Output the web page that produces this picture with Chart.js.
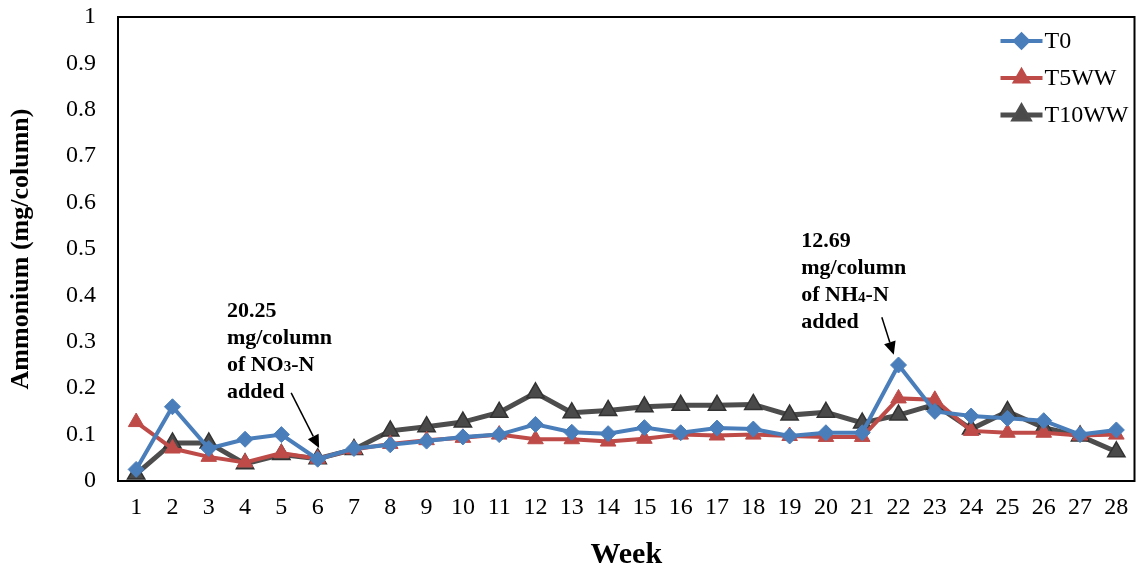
<!DOCTYPE html>
<html>
<head>
<meta charset="utf-8">
<script src="https://cdn.jsdelivr.net/npm/chart.js@4.4.4/dist/chart.umd.min.js"></script>
<style>
  html, body { margin: 0; padding: 0; background: #fff; }
  #wrap { width: 1146px; height: 573px; }
</style>
</head>
<body>
<div id="wrap"><canvas id="chart" width="1146" height="573"></canvas></div>
<script>
const weeks = ["1","2","3","4","5","6","7","8","9","10","11","12","13","14","15","16","17","18","19","20","21","22","23","24","25","26","27","28"];
const t0 = [0.025, 0.16, 0.07, 0.09, 0.10, 0.047, 0.07, 0.078, 0.086, 0.095, 0.10, 0.122, 0.105, 0.102, 0.115, 0.104, 0.114, 0.112, 0.097, 0.104, 0.104, 0.25, 0.15, 0.14, 0.135, 0.13, 0.10, 0.11];
const t5ww = [0.127, 0.07, 0.052, 0.04, 0.06, 0.048, 0.068, 0.08, 0.088, 0.093, 0.10, 0.09, 0.09, 0.085, 0.091, 0.10, 0.098, 0.10, 0.097, 0.095, 0.095, 0.178, 0.175, 0.108, 0.104, 0.104, 0.098, 0.10];
const t10ww = [0.015, 0.082, 0.082, 0.037, 0.057, 0.048, 0.068, 0.108, 0.117, 0.127, 0.148, 0.19, 0.147, 0.152, 0.16, 0.163, 0.163, 0.165, 0.142, 0.148, 0.125, 0.142, 0.165, 0.112, 0.15, 0.115, 0.097, 0.063];
const yTicks = [0, 0.1, 0.2, 0.3, 0.4, 0.5, 0.6, 0.7, 0.8, 0.9, 1];

const serif = "'Liberation Serif', 'Times New Roman', serif";

// annotation notes: text lines + arrow, placed in data units (week index, value)
const notes = [
  {lines: ["20.25", "mg/column", ["of NO", "3", "-N"], "added"], x: 2.5, y: 0.39, from: [4.27, 0.19], to: [5.04, 0.071]},
  {lines: ["12.69", "mg/column", ["of NH", "4", "-N"], "added"], x: 18.32, y: 0.54, from: [20.54, 0.353], to: [20.87, 0.272]}
];

const framePlugin = {
  id: "frame",
  afterDraw(chart) {
    const {ctx, chartArea: a} = chart;
    ctx.save();
    ctx.strokeStyle = "#000";
    ctx.lineWidth = 2;
    ctx.strokeRect(a.left, a.top, a.right - a.left, a.bottom - a.top);
    ctx.restore();
  }
};

const notesPlugin = {
  id: "notes",
  afterDraw(chart) {
    const {ctx} = chart;
    const xs = chart.scales.x, ys = chart.scales.y;
    ctx.save();
    ctx.fillStyle = "#000";
    ctx.textBaseline = "top";
    notes.forEach(n => {
      const px = xs.getPixelForValue(n.x);
      let py = ys.getPixelForValue(n.y);
      n.lines.forEach(line => {
        ctx.font = "bold 22px " + serif;
        if (Array.isArray(line)) {
          let cx = px;
          ctx.fillText(line[0], cx, py);
          cx += ctx.measureText(line[0]).width;
          ctx.font = "bold 15px " + serif;
          ctx.fillText(line[1], cx, py + 6);
          cx += ctx.measureText(line[1]).width;
          ctx.font = "bold 22px " + serif;
          ctx.fillText(line[2], cx, py);
        } else {
          ctx.fillText(line, px, py);
        }
        py += 27;
      });
      const x1 = xs.getPixelForValue(n.from[0]), y1 = ys.getPixelForValue(n.from[1]);
      const x2 = xs.getPixelForValue(n.to[0]), y2 = ys.getPixelForValue(n.to[1]);
      const ang = Math.atan2(y2 - y1, x2 - x1);
      const hl = 13, hw = 6;
      const bx = x2 - hl * Math.cos(ang), by = y2 - hl * Math.sin(ang);
      ctx.strokeStyle = "#000";
      ctx.lineWidth = 1.5;
      ctx.beginPath();
      ctx.moveTo(x1, y1);
      ctx.lineTo(bx, by);
      ctx.stroke();
      ctx.beginPath();
      ctx.moveTo(x2, y2);
      ctx.lineTo(bx + hw * Math.sin(ang), by - hw * Math.cos(ang));
      ctx.lineTo(bx - hw * Math.sin(ang), by + hw * Math.cos(ang));
      ctx.closePath();
      ctx.fill();
    });
    ctx.restore();
  }
};

// legend with line + marker, like the spreadsheet one
const legendPlugin = {
  id: "lineLegend",
  afterDraw(chart) {
    const {ctx, chartArea: a} = chart;
    ctx.save();
    const x0 = a.right - 134, rowH = 37, y0 = a.top + 24;
    chart.data.datasets.forEach((ds, i) => {
      const y = y0 + i * rowH;
      ctx.strokeStyle = ds.borderColor;
      ctx.lineWidth = ds.borderWidth;
      ctx.beginPath();
      ctx.moveTo(x0, y);
      ctx.lineTo(x0 + 42, y);
      ctx.stroke();
      Chart.helpers.drawPoint(ctx, {
        pointStyle: ds.pointStyle, radius: ds.pointRadius * 0.8, rotation: 0,
        borderWidth: ds.pointBorderWidth
      }, x0 + 21, y);
      ctx.fillStyle = ds.pointBackgroundColor;
      ctx.strokeStyle = ds.pointBorderColor;
      ctx.fill();
      ctx.fillStyle = "#000";
      ctx.font = "24px " + serif;
      ctx.textBaseline = "middle";
      ctx.fillText(ds.label, x0 + 44, y + 1);
    });
    ctx.restore();
  }
};

new Chart(document.getElementById("chart"), {
  type: "line",
  data: {
    labels: weeks,
    datasets: [
      {label: "T0", data: t0, borderColor: "#4a7ebb", borderWidth: 4,
       pointStyle: "rectRot", pointRadius: 8, pointBackgroundColor: "#4a7ebb", pointBorderColor: "#4a7ebb", pointBorderWidth: 1},
      {label: "T5WW", data: t5ww, borderColor: "#be4b48", borderWidth: 4,
       pointStyle: "triangle", pointRadius: 9, pointBackgroundColor: "#be4b48", pointBorderColor: "#be4b48", pointBorderWidth: 1},
      {label: "T10WW", data: t10ww, borderColor: "#4d4d4d", borderWidth: 5,
       pointStyle: "triangle", pointRadius: 10, pointBackgroundColor: "#4a4a4a", pointBorderColor: "#333", pointBorderWidth: 1.5}
    ]
  },
  options: {
    responsive: false,
    animation: false,
    layout: {padding: {top: 17, right: 9, left: 0, bottom: 0}},
    plugins: {legend: {display: false}, tooltip: {enabled: false}},
    scales: {
      x: {
        offset: true,
        grid: {display: false, drawTicks: false, offset: true},
        border: {display: false},
        ticks: {color: "#000", font: {family: serif, size: 24}, padding: 12, maxRotation: 0, autoSkip: false},
        title: {display: true, text: "Week", color: "#000", font: {family: serif, size: 30, weight: "bold"}, padding: {top: 0, bottom: 0}},
        afterFit(scale) { scale.height = 92; scale.paddingLeft = 0; scale.paddingRight = 0; }
      },
      y: {
        min: 0, max: 1,
        grid: {display: false, drawTicks: false},
        border: {display: false},
        afterBuildTicks(scale) { scale.ticks = yTicks.map(v => ({value: v})); },
        ticks: {color: "#000", font: {family: serif, size: 24}, padding: 22,
                callback: v => String(Number(v.toFixed(1)))},
        title: {display: true, text: "Ammonium (mg/column)", color: "#000", font: {family: serif, size: 26, weight: "bold"}, padding: {top: 6, bottom: 0}},
        afterFit(scale) { scale.width = 118; scale.paddingTop = 0; scale.paddingBottom = 0; }
      }
    }
  },
  plugins: [framePlugin, notesPlugin, legendPlugin]
});
</script>
</body>
</html>
